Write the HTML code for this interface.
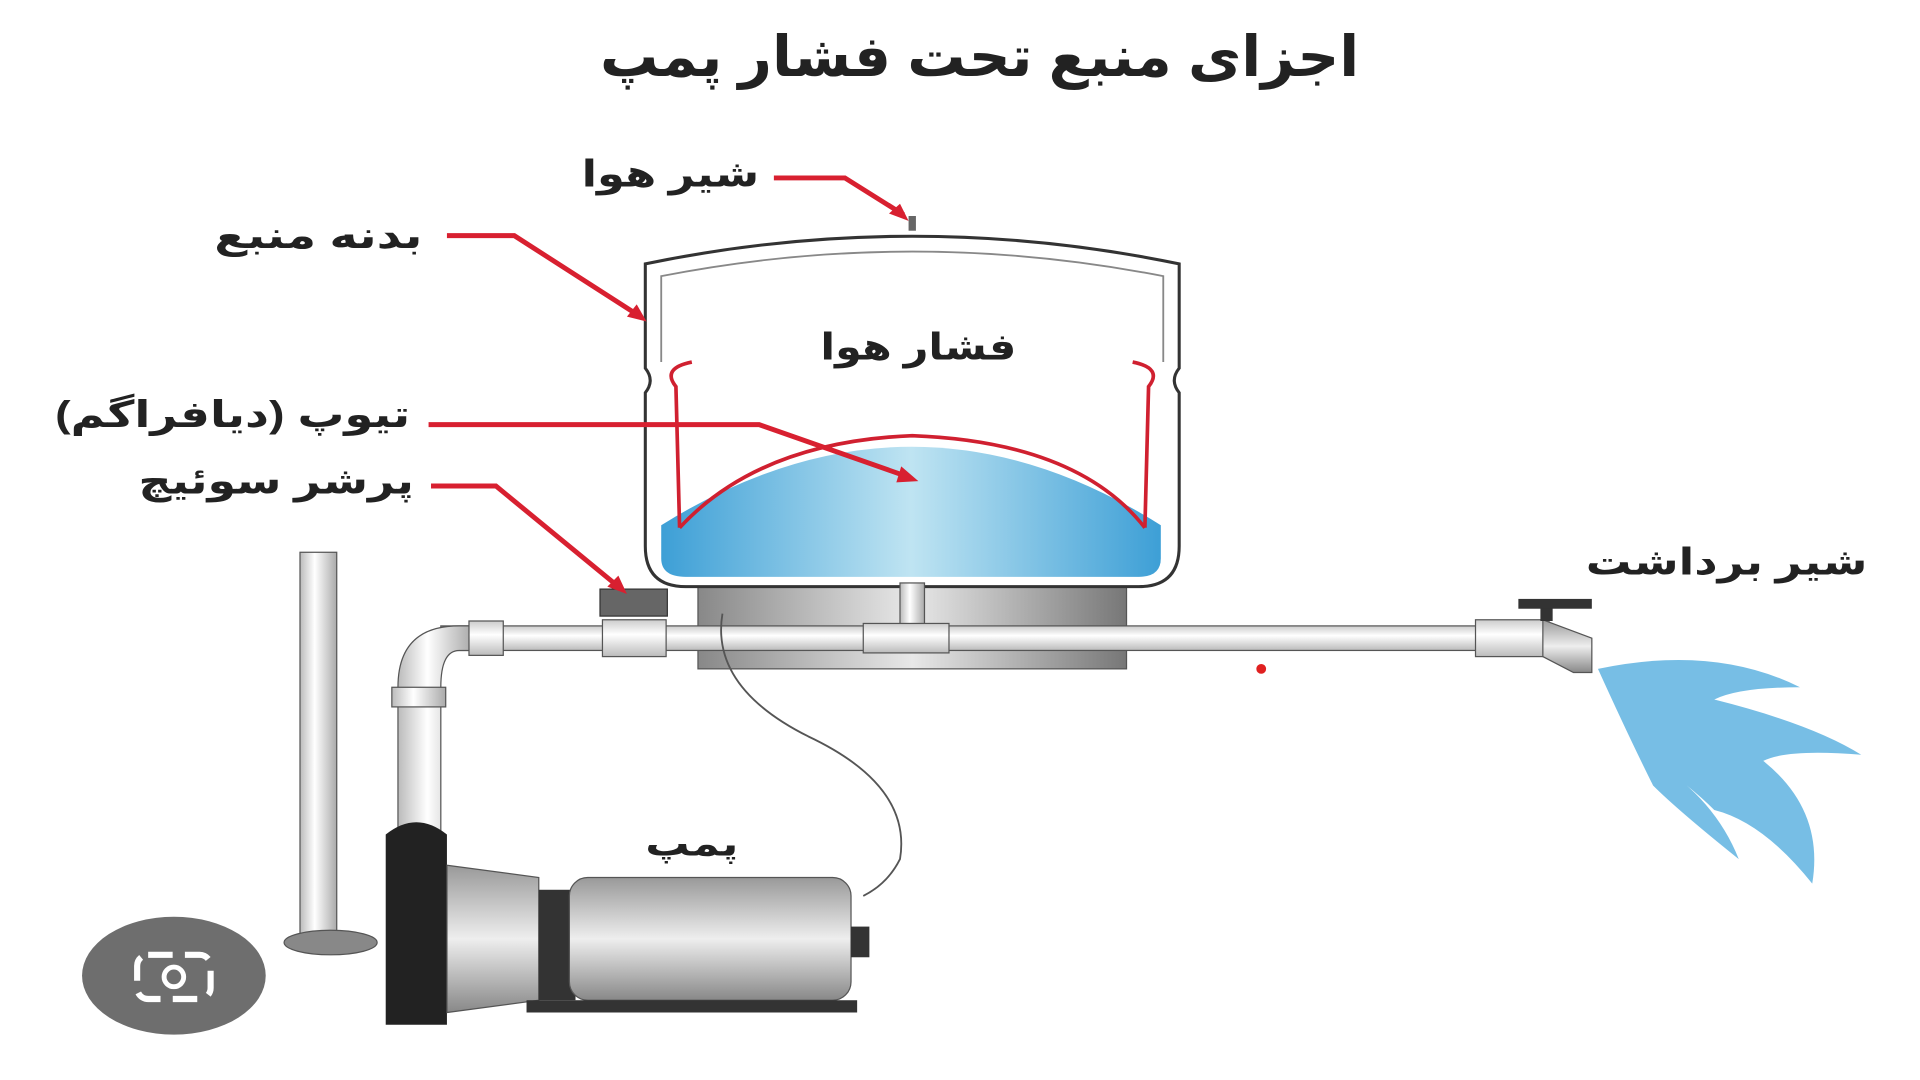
<!DOCTYPE html>
<html><head><meta charset="utf-8"><style>
html,body{margin:0;padding:0;background:#fff;width:1920px;height:1080px;overflow:hidden}
svg{display:block}
text{font-family:"Liberation Sans","DejaVu Sans","Noto Sans CJK SC",sans-serif;font-weight:bold;fill:#222}
</style></head><body>
<svg width="1920" height="1080" viewBox="0 0 1568 880" preserveAspectRatio="none" xmlns="http://www.w3.org/2000/svg">
<defs>
<linearGradient id="w" x1="0" x2="1"><stop offset="0" stop-color="#3d9fd6"/><stop offset=".5" stop-color="#bfe4f2"/><stop offset="1" stop-color="#3d9fd6"/></linearGradient>
<linearGradient id="g" x1="0" x2="1"><stop offset="0" stop-color="#888"/><stop offset=".5" stop-color="#e8e8e8"/><stop offset="1" stop-color="#777"/></linearGradient>
<linearGradient id="gv" x1="0" y1="0" x2="0" y2="1"><stop offset="0" stop-color="#999"/><stop offset=".5" stop-color="#eee"/><stop offset="1" stop-color="#888"/></linearGradient>
<linearGradient id="p" x1="0" y1="0" x2="0" y2="1"><stop offset="0" stop-color="#ccc"/><stop offset=".4" stop-color="#fff"/><stop offset="1" stop-color="#bbb"/></linearGradient>
<linearGradient id="pv" x1="0" x2="1"><stop offset="0" stop-color="#bbb"/><stop offset=".4" stop-color="#fff"/><stop offset="1" stop-color="#aaa"/></linearGradient>
</defs>
<text x="800" y="62" font-size="46" text-anchor="middle" textLength="620" lengthAdjust="spacingAndGlyphs">اجزای منبع تحت فشار پمپ</text>

<rect x="570" y="475" width="350" height="70" fill="url(#g)" stroke="#555"/>
<path d="M527 215 Q745 170 963 215 L963 300 Q955 310 963 320 L963 445 Q963 478 930 478 L560 478 Q527 478 527 445 L527 320 Q535 310 527 300 Z" fill="#fff" stroke="#333" stroke-width="2.5"/>
<path d="M540 295 L540 225 Q745 185 950 225 L950 295" fill="none" stroke="#888" stroke-width="1.5"/>
<rect x="742" y="176" width="6" height="12" fill="#666"/>
<path d="M540 428 Q745 300 948 428 L948 455 Q948 470 930 470 L560 470 Q540 470 540 455 Z" fill="url(#w)"/>
<path d="M555 430 Q620 360 745 355 Q880 360 935 430" fill="none" stroke="#d02030" stroke-width="3"/>
<path d="M555 430 L552 315 Q540 300 565 295" fill="none" stroke="#d02030" stroke-width="3"/>
<path d="M935 430 L938 315 Q950 300 925 295" fill="none" stroke="#d02030" stroke-width="3"/>
<text x="750" y="293" font-size="30" text-anchor="middle" textLength="160" lengthAdjust="spacingAndGlyphs">فشار هوا</text>

<rect x="735" y="475" width="20" height="40" fill="url(#pv)" stroke="#555"/>
<rect x="360" y="510" width="850" height="20" fill="url(#p)" stroke="#555"/>
<path d="M325 680 L325 560 Q325 510 375 510 L385 510 L385 530 L375 530 Q360 530 360 560 L360 680 Z" fill="url(#pv)" stroke="#555"/>
<rect x="383" y="506" width="28" height="28" fill="url(#p)" stroke="#555"/>
<rect x="320" y="560" width="44" height="16" fill="url(#pv)" stroke="#555"/>
<rect x="705" y="508" width="70" height="24" fill="url(#p)" stroke="#555"/>
<rect x="492" y="505" width="52" height="30" fill="url(#p)" stroke="#555"/>
<rect x="490" y="480" width="55" height="22" fill="#666" stroke="#333"/>
<path d="M590 500 Q580 560 660 600 Q745 640 735 700 Q725 720 705 730" fill="none" stroke="#555" stroke-width="1.5"/>
<rect x="245" y="450" width="30" height="315" fill="url(#pv)" stroke="#555"/>
<ellipse cx="270" cy="768" rx="38" ry="10" fill="#888" stroke="#555"/>
<path d="M315 680 Q340 660 365 680 L365 835 L315 835 Z" fill="#222"/>
<path d="M365 705 L440 715 L440 815 L365 825 Z" fill="url(#gv)" stroke="#555"/>
<rect x="440" y="725" width="30" height="90" fill="#333"/>
<rect x="465" y="715" width="230" height="100" rx="15" fill="url(#gv)" stroke="#555"/>
<rect x="695" y="755" width="15" height="25" fill="#333"/>
<rect x="430" y="815" width="270" height="10" fill="#333"/>
<text x="565" y="697" font-size="28" text-anchor="middle" textLength="76" lengthAdjust="spacingAndGlyphs">پمپ</text>
<rect x="1205" y="505" width="60" height="30" fill="url(#p)" stroke="#555"/>
<path d="M1260 505 L1300 520 L1300 548 L1285 548 L1260 535 Z" fill="url(#gv)" stroke="#555"/>
<rect x="1258" y="490" width="10" height="16" fill="#333"/>
<rect x="1240" y="488" width="60" height="8" fill="#333"/>
<path d="M1305 545 Q1400 525 1470 560 Q1420 560 1400 570 Q1480 590 1520 615 Q1460 610 1440 620 Q1490 660 1480 720 Q1440 670 1400 660 Q1380 640 1350 620 Q1400 650 1420 700 Q1370 660 1350 640 Q1330 600 1305 545 Z" fill="#5fb3e0" opacity=".85"/>
<text x="1410" y="468" font-size="30" text-anchor="middle" textLength="230" lengthAdjust="spacingAndGlyphs">شیر برداشت</text>
<circle cx="1030" cy="545" r="4" fill="#e02020"/>

<g font-size="30">
<text x="620" y="152" text-anchor="end" textLength="145" lengthAdjust="spacingAndGlyphs">شیر هوا</text>
<text x="345" y="202" text-anchor="end" textLength="170" lengthAdjust="spacingAndGlyphs">بدنه منبع</text>
<text x="335" y="348" text-anchor="end" textLength="290" lengthAdjust="spacingAndGlyphs">تیوپ (دیافراگم)</text>
<text x="338" y="402" text-anchor="end" textLength="225" lengthAdjust="spacingAndGlyphs">پرشر سوئیچ</text>
</g>
<g fill="none" stroke="#d82030" stroke-width="4">
<path d="M632 145 L690 145 L738 175"/>
<path d="M365 192 L420 192 L523 258"/>
<path d="M350 346 L620 346 L740 388"/>
<path d="M352 396 L405 396 L505 478"/>
</g>
<g fill="#d82030">
<path d="M742 180 L726 174 L735 166 Z"/>
<path d="M528 262 L512 258 L520 248 Z"/>
<path d="M750 392 L732 393 L736 380 Z"/>
<path d="M512 484 L496 478 L505 469 Z"/>
</g>
<ellipse cx="142" cy="795" rx="75" ry="48" fill="#6e6e6e"/>
<rect x="112" y="778" width="60" height="36" rx="9" fill="none" stroke="#fff" stroke-width="5" stroke-dasharray="20 10"/>
<circle cx="142" cy="796" r="8" fill="none" stroke="#fff" stroke-width="4"/>
</svg>
</body></html>
